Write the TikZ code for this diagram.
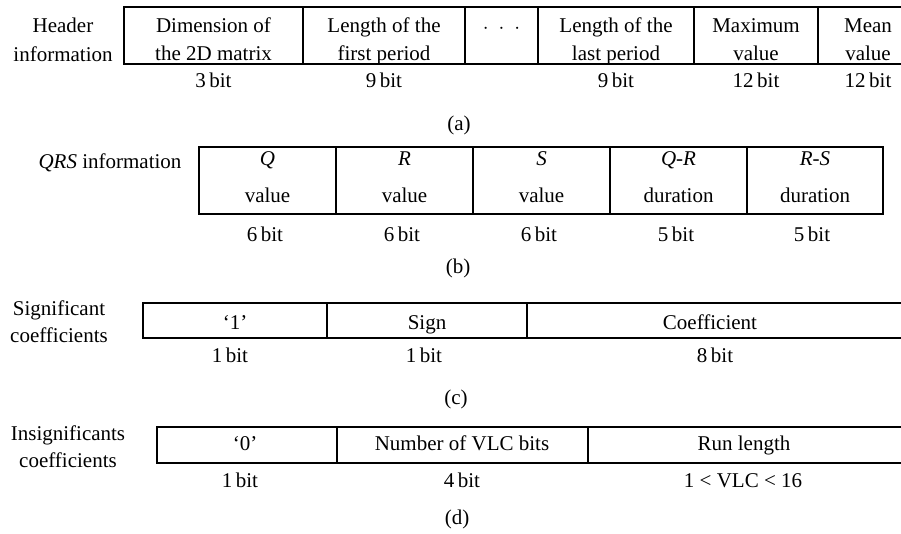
\documentclass[tikz,border=0pt]{standalone}
\usepackage{fontspec}
\setmainfont{Liberation Serif}
\usepackage{amsmath}
\usepackage{tikz}

\begin{document}
\begin{tikzpicture}[x=1pt,y=-1pt]
\tikzset{
  txt/.style={font=\fontsize{21}{28}\selectfont, anchor=base, inner sep=0pt, align=center},
  field/.style={draw=black, line width=1.1pt}
}
\def\bt{\,bit}
\useasboundingbox (0,0) rectangle (901,534);
\clip (0,0) rectangle (901,534);

%%%%% (a) header %%%%%
\draw[field] (124,7) rectangle (918,64);
\foreach \xd in {303,465,538,694,818}{\draw[field] (\xd,7) -- (\xd,64);}
\node[txt] (hdr) at (63,62) {Header\\[1pt]information};
\node[txt] (hdim) at (213.5,61) {Dimension of\\the 2D matrix};
\node[txt] (hfirst) at (384,61) {Length of the\\first period};
\node[txt] (hdots) at (501.5,34) {$\cdot$\hspace{10pt}$\cdot$\hspace{10pt}$\cdot$};
\node[txt] (hlast) at (616,61) {Length of the\\last period};
\node[txt] (hmax) at (756,61) {Maximum\\value};
\node[txt] (hmean) at (868,61) {Mean\\value};
\node[txt] (bdim) at (213.5,88) {3\bt};
\node[txt] (bfirst) at (384,88) {9\bt};
\node[txt] (blast) at (616,88) {9\bt};
\node[txt] (bmax) at (756,88) {12\bt};
\node[txt] (bmean) at (868,88) {12\bt};
\node[txt] (capa) at (459,131) {(a)};

%%%%% (b) QRS %%%%%
\draw[field] (199,147) rectangle (883,214);
\foreach \xd in {336,473,610,747}{\draw[field] (\xd,147) -- (\xd,214);}
\node[txt] (qrs) at (110,169) {\textit{QRS} information};
\node[txt] (qval) at (267.5,203) {\textit{Q}\\[9pt]value};
\node[txt] (rval) at (404.5,203) {\textit{R}\\[9pt]value};
\node[txt] (sval) at (541.5,203) {\textit{S}\\[9pt]value};
\node[txt] (qrdur) at (678.5,203) {\textit{Q}-\textit{R}\\[9pt]duration};
\node[txt] (rsdur) at (815,203) {\textit{R}-\textit{S}\\[9pt]duration};
\node[txt] (bq) at (265,242) {6\bt};
\node[txt] (br) at (402,242) {6\bt};
\node[txt] (bs) at (539,242) {6\bt};
\node[txt] (bqr) at (676,242) {5\bt};
\node[txt] (brs) at (812,242) {5\bt};
\node[txt] (capb) at (458,274) {(b)};

%%%%% (c) significant %%%%%
\draw[field] (143,303) rectangle (918,338);
\foreach \xd in {327,527}{\draw[field] (\xd,303) -- (\xd,338);}
\node[txt] (sig) at (59,342) {Significant\\[-1pt]coefficients};
\node[txt] (sone) at (235,329) {`1'};
\node[txt] (ssign) at (427,329) {Sign};
\node[txt] (scoef) at (710,329) {Coefficient};
\node[txt] (bone) at (230,362) {1\bt};
\node[txt] (bsign) at (424,362) {1\bt};
\node[txt] (bcoef) at (715,362) {8\bt};
\node[txt] (capc) at (456,404) {(c)};

%%%%% (d) insignificant %%%%%
\draw[field] (157,427) rectangle (918,463);
\foreach \xd in {337,588}{\draw[field] (\xd,427) -- (\xd,463);}
\node[txt] (insig) at (68,467) {Insignificants\\[-1pt]coefficients};
\node[txt] (izero) at (245,450) {`0'};
\node[txt] (inum) at (462,450) {Number of VLC bits};
\node[txt] (irun) at (744,450) {Run length};
\node[txt] (bzero) at (240,487) {1\bt};
\node[txt] (bnum) at (462,487) {4\bt};
\node[txt] (brun) at (743,487) {1 < VLC < 16};
\node[txt] (capd) at (457,524) {(d)};

\end{tikzpicture}
\end{document}
